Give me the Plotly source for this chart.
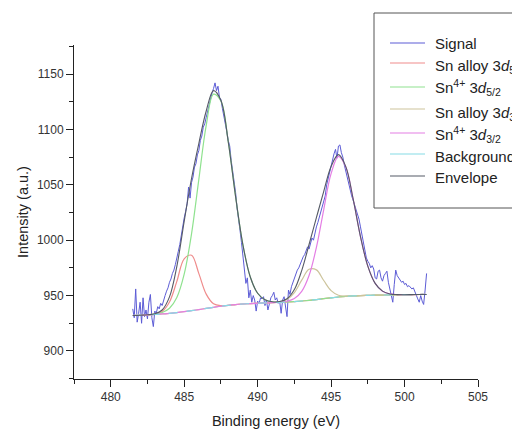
import plotly.graph_objects as go

# ---------------- data ----------------
signal_start, signal_step = 481.5, 0.1
signal_counts = [
    938, 930, 956, 926, 934, 944, 925, 948, 931, 937,
    929, 944, 951, 930, 922, 936, 934, 940, 938, 943,
    941, 947, 950, 954, 957, 962, 965, 970, 973, 978,
    983, 990, 996, 1005, 1013, 1020, 1026, 1033, 1048, 1038,
    1052, 1057, 1066, 1069, 1077, 1081, 1090, 1094, 1102, 1105,
    1111, 1117, 1121, 1129, 1133, 1137, 1142, 1135, 1139, 1129,
    1127, 1119, 1113, 1104, 1098, 1090, 1085, 1072, 1063, 1052,
    1043, 1029, 1021, 1009, 998, 987, 975, 961, 966, 948,
    955, 944, 950, 946, 936, 945, 943, 948, 947, 949,
    941, 946, 937, 944, 948, 950, 953, 946, 948, 943,
    945, 934, 946, 949, 940, 931, 955, 951, 958, 962,
    966, 970, 973, 975, 979, 982, 985, 987, 990, 994,
    992, 998, 1002, 1000, 1008, 1012, 1016, 1021, 1025, 1030,
    1036, 1040, 1050, 1056, 1062, 1066, 1071, 1078, 1082, 1074,
    1085, 1086, 1079, 1075, 1068, 1062, 1058, 1052, 1046, 1040,
    1036, 1032, 1027, 1022, 1019, 1012, 1005, 997, 991, 984,
    981, 979, 975, 977, 974, 966, 965, 972, 973, 966,
    963, 968, 970, 972, 962, 955, 950, 944, 960, 973,
    968, 966, 964, 962, 963, 960, 961, 958, 959, 957,
    956, 957, 953, 950, 947, 944, 950, 945, 942, 955,
    970,
]

comp_start, comp_step = 481.5, 0.5
sn_alloy_52 = [
    932.0, 932.3, 932.6, 933.3, 935.7, 944.2, 962.8, 983.2, 986.4, 969.8,
    951.3, 942.6, 940.9, 941.2, 941.9, 942.4, 942.8, 943.1, 943.4, 943.6,
    943.9, 944.2, 944.6, 945.1, 945.7, 946.4, 947.2, 948.0, 948.7, 949.3,
    949.7, 950.0, 950.2, 950.4, 950.5, 950.6, 950.7, 950.8, 950.9, 951.0,
    951.0,
]
sn4_52 = [
    932.0, 932.3, 932.7, 933.3, 934.7, 938.6, 948.3, 969.3, 1005.7, 1055.1,
    1103.7, 1131.8, 1125.6, 1088.8, 1039.3, 995.6, 966.8, 952.1, 946.2, 944.3,
    944.1, 944.2, 944.6, 945.1, 945.7, 946.4, 947.2, 948.0, 948.7, 949.3,
    949.7, 950.0, 950.2, 950.4, 950.5, 950.6, 950.7, 950.8, 950.9, 951.0,
    951.0,
]
sn_alloy_32 = [
    932.0, 932.3, 932.6, 933.0, 933.4, 934.0, 934.7, 935.5, 936.4, 937.4,
    938.4, 939.4, 940.4, 941.2, 941.9, 942.4, 942.8, 943.1, 943.4, 943.6,
    944.3, 946.4, 952.7, 963.9, 973.7, 973.2, 963.6, 954.5, 950.3, 949.6,
    949.7, 950.0, 950.2, 950.4, 950.5, 950.6, 950.7, 950.8, 950.9, 951.0,
    951.0,
]
sn4_32 = [
    932.0, 932.3, 932.6, 933.0, 933.4, 934.0, 934.7, 935.5, 936.4, 937.4,
    938.4, 939.4, 940.4, 941.2, 941.9, 942.4, 942.8, 943.1, 943.4, 943.6,
    944.0, 944.9, 947.3, 953.8, 968.1, 993.5, 1027.7, 1060.1, 1075.6, 1066.1,
    1037.2, 1003.3, 976.6, 961.0, 954.0, 951.5, 950.9, 950.8, 950.9, 951.0,
    951.0,
]
background = [
    932.0, 932.3, 932.6, 933.0, 933.4, 934.0, 934.7, 935.5, 936.4, 937.4,
    938.4, 939.4, 940.4, 941.2, 941.9, 942.4, 942.8, 943.1, 943.4, 943.6,
    943.9, 944.2, 944.6, 945.1, 945.7, 946.4, 947.2, 948.0, 948.7, 949.3,
    949.7, 950.0, 950.2, 950.4, 950.5, 950.6, 950.7, 950.8, 950.9, 951.0,
    951.0,
]
envelope = [
    932.0, 932.3, 932.7, 933.6, 937.0, 948.8, 976.4, 1017.0, 1055.7, 1087.5,
    1116.6, 1135.0, 1126.1, 1088.9, 1039.3, 995.6, 966.8, 952.1, 946.2, 944.4,
    944.6, 947.1, 955.4, 972.6, 996.1, 1020.3, 1044.1, 1066.6, 1077.2, 1066.4,
    1037.2, 1003.3, 976.6, 961.0, 954.0, 951.5, 950.9, 950.8, 950.9, 951.0,
    951.0,
]

x_ticks = [480, 485, 490, 495, 500, 505]
y_ticks = [900, 950, 1000, 1050, 1100, 1150]

series_names = [
    "Signal",
    "Sn alloy 3<i>d</i><sub>5/2</sub>",
    "Sn<sup>4+</sup> 3<i>d</i><sub>5/2</sub>",
    "Sn alloy 3<i>d</i><sub>3/2</sub>",
    "Sn<sup>4+</sup> 3<i>d</i><sub>3/2</sub>",
    "Background",
    "Envelope",
]
series_colors = ["#5c5cd6", "#ef8c8c", "#8fe28f", "#cdc49c", "#e47ee4", "#86dce6", "#555a66"]

# ---------------- figure ----------------
# the page body adds an 8px margin, so figure pixel = screen pixel - 8
OFF = 8
W, H = 512, 422
ML, MR, MT, MB = 66, 42, 37, 51
PW, PH = W - ML - MR, H - MT - MB


def px_x(p):  # screen px -> paper fraction
    return (p - OFF - ML) / PW


def px_y(p):
    return 1 - (p - OFF - MT) / PH


signal_energy = [round(signal_start + signal_step * i, 2) for i in range(len(signal_counts))]
comp_energy = [round(comp_start + comp_step * i, 2) for i in range(len(envelope))]

FONT = "Liberation Sans, Arial, sans-serif"
fig = go.Figure()

fig.add_trace(go.Scatter(x=signal_energy, y=signal_counts, mode="lines",
                         name=series_names[0],
                         line=dict(color=series_colors[0], width=1)))
comp_values = [sn_alloy_52, sn4_52, sn_alloy_32, sn4_32, background]
for i, vals in enumerate(comp_values):
    fig.add_trace(go.Scatter(x=comp_energy, y=vals, mode="lines",
                             name=series_names[i + 1],
                             line=dict(color=series_colors[i + 1], width=1.2, shape="spline",
                                       dash="dash" if i == 4 else None)))
fig.add_trace(go.Scatter(x=comp_energy, y=envelope, mode="lines",
                         name=series_names[6],
                         line=dict(color=series_colors[6], width=1.1, shape="spline")))

axis_common = dict(
    showline=True, linecolor="#222", linewidth=1, mirror=False,
    showgrid=False, zeroline=False,
    ticks="outside", ticklen=7, tickwidth=1, tickcolor="#222",
    tickfont=dict(family=FONT, size=12, color="#333"),
)

# ---- hand-drawn legend box (extends past the right edge like the reference) ----
shapes = [dict(type="rect", xref="paper", yref="paper",
               x0=px_x(374), x1=px_x(560), y0=px_y(208), y1=px_y(13),
               line=dict(color="#555", width=1), fillcolor="white", layer="above")]
annotations = []
line_y = [43, 63, 87, 109, 133, 154, 176]
text_y = [43, 67, 88, 113, 134, 156, 177]
for i, name in enumerate(series_names):
    shapes.append(dict(type="line", xref="paper", yref="paper",
                       x0=px_x(390), x1=px_x(425), y0=px_y(line_y[i]), y1=px_y(line_y[i]),
                       line=dict(color=series_colors[i], width=1.2), layer="above"))
    annotations.append(dict(xref="paper", yref="paper", x=px_x(433), y=px_y(text_y[i]),
                            xanchor="left", yanchor="middle", showarrow=False, text=name,
                            font=dict(family=FONT, size=15, color="#222")))

fig.update_layout(
    width=W, height=H,
    margin=dict(l=ML, r=MR, t=MT, b=MB, autoexpand=False),
    paper_bgcolor="white", plot_bgcolor="white",
    font=dict(family=FONT, color="#222"),
    showlegend=False,
    xaxis=dict(range=[477.5, 505], tickvals=x_ticks,
               minor=dict(ticks="outside", ticklen=4, dtick=2.5, tick0=477.5, tickcolor="#222"),
               title=dict(text="Binding energy (eV)", font=dict(family=FONT, size=14.5, color="#222"), standoff=12),
               **axis_common),
    yaxis=dict(range=[874.7, 1176.2], tickvals=y_ticks,
               minor=dict(ticks="outside", ticklen=4, dtick=25, tick0=900, tickcolor="#222"),
               title=dict(text="Intensity (a.u.)", font=dict(family=FONT, size=14.5, color="#222"), standoff=4),
               **axis_common),
    shapes=shapes,
    annotations=annotations,
)

fig.write_html("out.html")
